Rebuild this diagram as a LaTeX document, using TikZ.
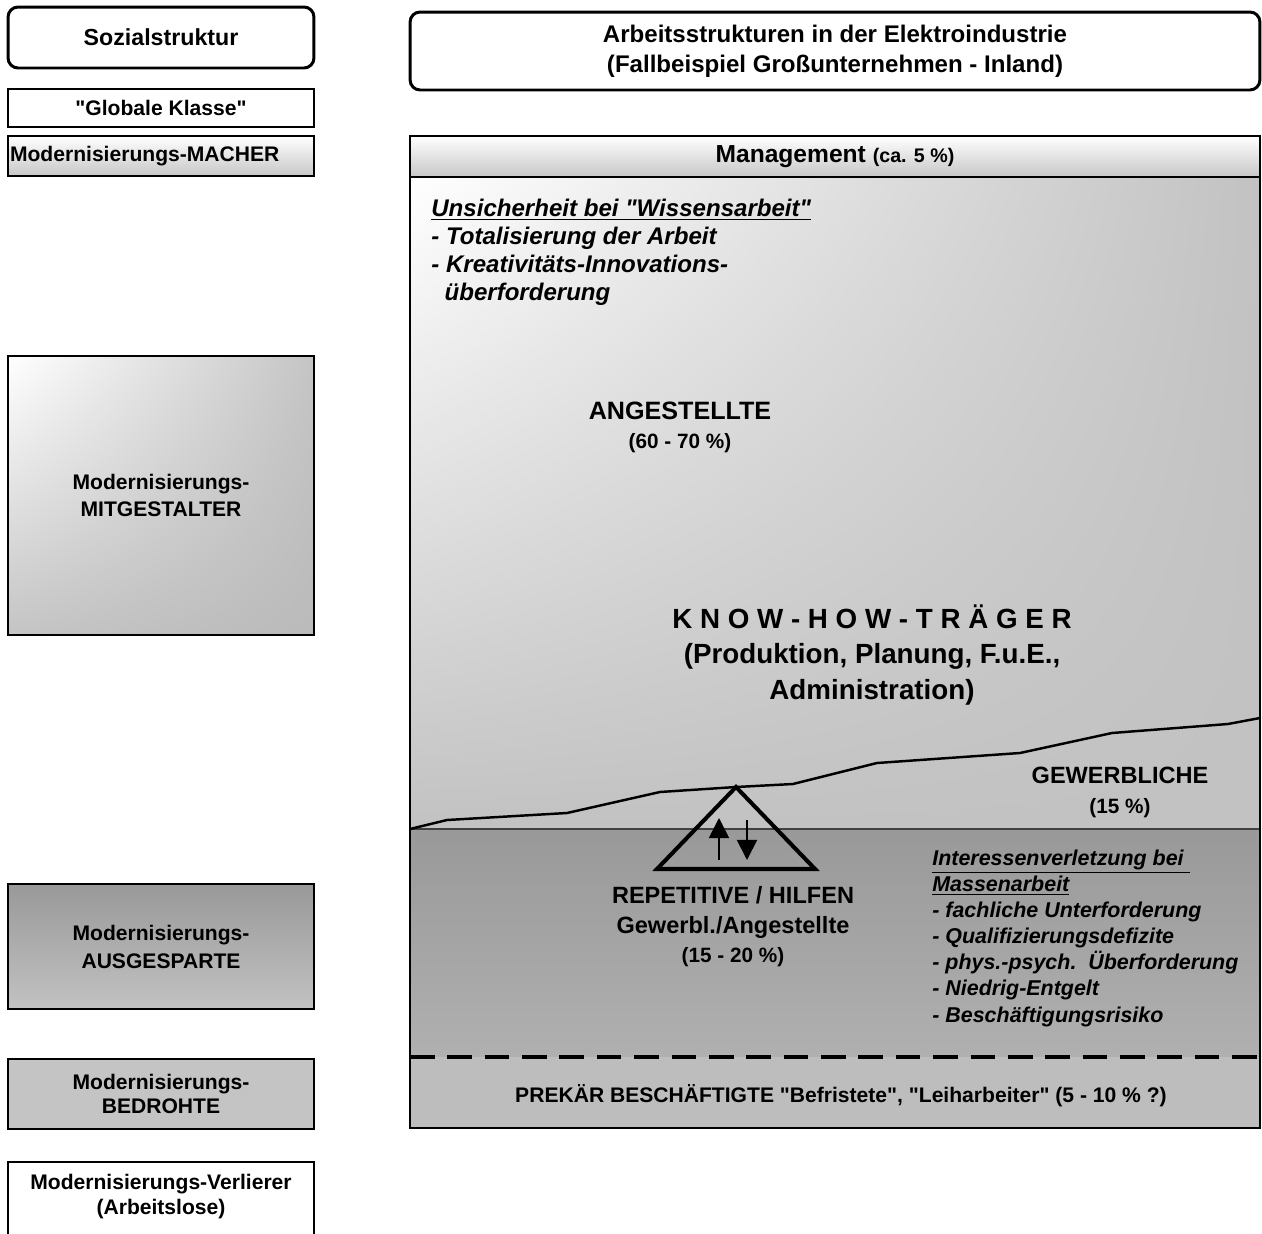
\documentclass[tikz,border=0pt]{standalone}
\usepackage{fontspec}
\setmainfont{Liberation Sans}[Ligatures=TeXOff]
\usetikzlibrary{arrows.meta, shadings}
\definecolor{barfill}{gray}{0.78}
\definecolor{upperfill}{gray}{0.76}
\definecolor{lowertop}{gray}{0.60}
\definecolor{lowerbot}{gray}{0.69}
\definecolor{prekfill}{gray}{0.74}
\definecolor{sidegrey}{gray}{0.77}
\definecolor{sidegreyb}{gray}{0.73}

\begin{document}
\begin{tikzpicture}[x=0.02cm, y=-0.02cm, inner sep=0pt, font=\bfseries]
    \tikzstyle{roundbox}=[draw=black, line width=1.7pt, rounded corners=5.7pt, fill=white, align=center]
    \tikzstyle{sidebox}=[draw=black, line width=1pt, minimum width=6.12cm, align=center, font=\bfseries\fontsize{12}{15.3}\selectfont]
    \tikzstyle{annot}=[align=center, font=\bfseries\fontsize{13.4}{17}\selectfont]
    \tikzstyle{small annot}=[align=center, font=\bfseries\fontsize{11.8}{14}\selectfont]
    \tikzstyle{list}=[align=left, anchor=west, font=\bfseries\itshape\fontsize{12.2}{14.9}\selectfont]

    \useasboundingbox (0,0) rectangle (1262,1234);

    % Sozialstruktur (links)
    \node[roundbox, minimum width=6.12cm, minimum height=1.22cm, font=\bfseries\fontsize{13.2}{16}\selectfont] (soz) at (161,37.5) {Sozialstruktur};
    \node[sidebox, fill=white, minimum height=0.76cm] (glob) at (161,108) {"Globale Klasse"};
    \node[sidebox, top color=white, bottom color=barfill, minimum height=0.8cm, text width=6.04cm, align=left] (macher) at (161,156) {Modernisierungs-MACHER};
    \node[sidebox, upper left=white, upper right=sidegrey, lower left=sidegrey, lower right=sidegreyb, minimum height=5.58cm] (mitgest) at (161,495.5) {Modernisierungs-\\MITGESTALTER};
    \node[sidebox, top color=lowertop, bottom color=upperfill, minimum height=2.5cm, font=\bfseries\fontsize{12}{15.9}\selectfont] (ausgesp) at (161,946.5) {Modernisierungs-\\AUSGESPARTE};
    \node[sidebox, fill=sidegrey, minimum height=1.4cm, font=\bfseries\fontsize{12}{13.6}\selectfont] (bedroht) at (161,1094) {Modernisierungs-\\BEDROHTE};
    \draw[line width=1pt] (8,1240) |- (314,1162) -- (314,1240);
    \node[sidebox, draw=none, font=\bfseries\fontsize{12}{14.2}\selectfont] (verlierer) at (161,1197) {Modernisierungs-Verlierer\\(Arbeitslose)};

    % Arbeitsstrukturen (rechts)
    \node[roundbox, minimum width=17cm, minimum height=1.56cm, font=\bfseries\fontsize{13.7}{17}\selectfont] (titel) at (835,51) {Arbeitsstrukturen in der Elektroindustrie\\(Fallbeispiel Großunternehmen - Inland)};

    \shade[upper left=white, upper right=upperfill, lower left=upperfill, lower right=upperfill] (410,177) rectangle (1260,829);
    \shade[top color=lowertop, bottom color=lowerbot] (410,829) rectangle (1260,1057);
    \fill[prekfill] (410,1057) rectangle (1260,1128);
    \draw[line width=0.8pt, black!75] (410,829) -- (1260,829);
    \draw[line width=1pt] (410,136) rectangle (1260,1128);
    \node[draw=black, line width=1.3pt, top color=white, bottom color=barfill, minimum width=17cm, minimum height=0.82cm] (mgmt) at (835,156.5) {\fontsize{14}{16}\selectfont Management {\fontsize{11.2}{13}\selectfont (ca. 5 \%)}};

    % Grenze Angestellte / Gewerbliche
    \draw[line width=1.4pt, line join=round] (410,829) \foreach \pt in {(447,820), (567,813), (660,792), (736,787), (793,784), (877,763), (1020,753), (1112,733), (1228,724), (1260,718)} { -- \pt };

    \draw[line width=2.3pt, dash pattern=on 14pt off 7.27pt] (410,1057) -- (1260,1057);

    % Dreieck mit Auf-/Abstieg
    \draw[line width=2.3pt, line join=miter] (736,787) -- (815,869) -- (657,869) -- cycle;
    \coordinate (up-a) at (719,860);
    \coordinate (up-b) at (719,818);
    \coordinate (dn-a) at (747,820);
    \coordinate (dn-b) at (747,860);
    \draw[line width=1pt, -{Triangle[width=11.5pt, length=11.5pt]}] (up-a) -- (up-b);
    \draw[line width=1pt, -{Triangle[width=11.5pt, length=11.5pt]}] (dn-a) -- (dn-b);

    \node[list, font=\bfseries\itshape\fontsize{13.7}{15.9}\selectfont] (wissen) at (431,252) {\underline{Unsicherheit bei "Wissensarbeit"}\\- Totalisierung der Arbeit\\- Kreativitäts-Innovations-\\\hspace*{0.55em}überforderung};

    \node[annot, font=\bfseries\fontsize{14.3}{17}\selectfont, anchor=base] (angest) at (680,419) {ANGESTELLTE};
    \node[small annot, anchor=base] (angest-pct) at (680,448) {(60 - 70 \%)};

    \node[annot, font=\bfseries\fontsize{15.8}{20.1}\selectfont] (knowhow) at (872,655) {K N O W - H O W - T R Ä G E R\\(Produktion, Planung, F.u.E.,\\Administration)};

    \node[annot, anchor=base] (gewerb) at (1120,783.5) {GEWERBLICHE};
    \node[small annot, anchor=base] (gewerb-pct) at (1120,813) {(15 \%)};

    \node[annot, anchor=base] (repet) at (733,903) {REPETITIVE / HILFEN};
    \node[annot, anchor=base] (repet-sub) at (733,933.5) {Gewerbl./Angestellte};
    \node[small annot, anchor=base] (repet-pct) at (733,962.6) {(15 - 20 \%)};

    \node[list] (masse) at (932,938) {\underline{Interessenverletzung bei\ }\\\underline{Massenarbeit}\\- fachliche Unterforderung\\- Qualifizierungsdefizite\\- phys.-psych.\ \ Überforderung\\- Niedrig-Entgelt\\- Beschäftigungsrisiko};

    \node[small annot, anchor=base, font=\bfseries\fontsize{12}{14}\selectfont] (prekaer) at (841,1102) {PREKÄR BESCHÄFTIGTE "Befristete", "Leiharbeiter" (5 - 10 \% ?)};
\end{tikzpicture}
\end{document}
